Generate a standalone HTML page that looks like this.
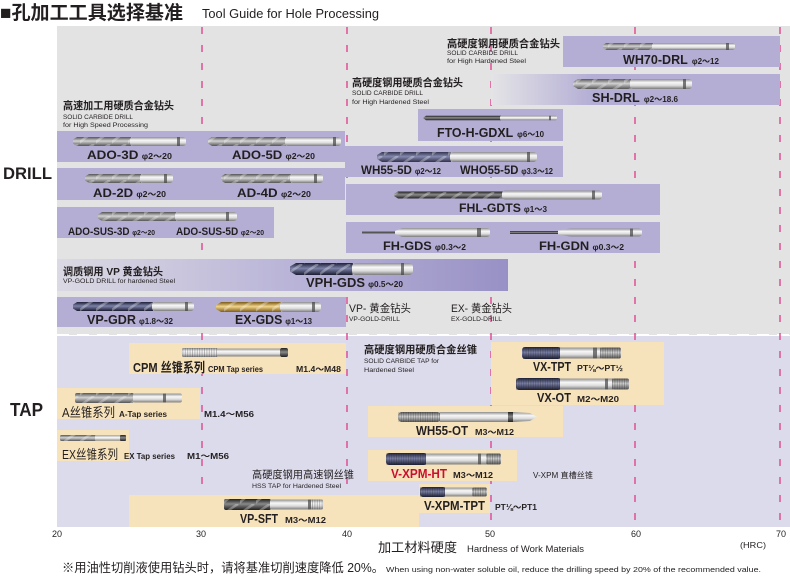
<!DOCTYPE html>
<html><head><meta charset="utf-8">
<style>
html,body{margin:0;padding:0;background:#fff;}
svg{display:block;}
text{font-family:"Liberation Sans","Noto Sans CJK SC",sans-serif;fill:#231f20;}
.b{font-weight:bold;}
</style></head>
<body>
<svg width="790" height="576" viewBox="0 0 790 576" xmlns="http://www.w3.org/2000/svg">
<defs>
<linearGradient id="sh" x1="0" y1="0" x2="0" y2="1"><stop offset="0" stop-color="#8d8d8d"/><stop offset=".35" stop-color="#f8f8f8"/><stop offset=".65" stop-color="#dcdcdc"/><stop offset="1" stop-color="#7b7b7b"/></linearGradient>
<linearGradient id="fl" x1="0" y1="0" x2="0" y2="1"><stop offset="0" stop-color="#555"/><stop offset=".45" stop-color="#d2d2d2"/><stop offset="1" stop-color="#555"/></linearGradient>
<linearGradient id="dk" x1="0" y1="0" x2="0" y2="1"><stop offset="0" stop-color="#1f1f1f"/><stop offset=".45" stop-color="#8a8a8a"/><stop offset="1" stop-color="#202020"/></linearGradient>
<linearGradient id="nv" x1="0" y1="0" x2="0" y2="1"><stop offset="0" stop-color="#1d2037"/><stop offset=".45" stop-color="#7c82a8"/><stop offset="1" stop-color="#1a1c31"/></linearGradient>
<linearGradient id="gd" x1="0" y1="0" x2="0" y2="1"><stop offset="0" stop-color="#7a5a18"/><stop offset=".45" stop-color="#f2d58a"/><stop offset="1" stop-color="#7d5c1a"/></linearGradient>
<linearGradient id="vph" x1="0" y1="0" x2="1" y2="0"><stop offset="0" stop-color="#dbd9e3"/><stop offset=".55" stop-color="#b7b2d7"/><stop offset="1" stop-color="#9891c5"/></linearGradient>
<linearGradient id="shd" x1="0" y1="0" x2="1" y2="0"><stop offset="0" stop-color="#e4e4e6"/><stop offset=".35" stop-color="#b4aed5"/><stop offset="1" stop-color="#b4aed5"/></linearGradient>
<pattern id="sw" patternUnits="userSpaceOnUse" width="16" height="12"><path d="M-2,12 C4,6 8,4 14,0" fill="none" stroke="#fff" stroke-opacity=".3" stroke-width="2.5"/></pattern>
<pattern id="th" patternUnits="userSpaceOnUse" width="2.4" height="12"><line x1="0.5" y1="0" x2="0.5" y2="12" stroke="#222" stroke-opacity=".3" stroke-width="0.9"/></pattern>
</defs>

<!-- Header -->
<text x="0" y="19" font-size="19" class="b" textLength="183" lengthAdjust="spacingAndGlyphs">■孔加工工具选择基准</text>
<text x="202" y="18" font-size="13" textLength="177" lengthAdjust="spacingAndGlyphs">Tool Guide for Hole Processing</text>

<!-- Backgrounds -->
<rect x="57" y="26" width="733" height="309" fill="#e3e3e3"/>
<rect x="57" y="336" width="733" height="191" fill="#dcdbeb"/>
<line x1="57" y1="335" x2="790" y2="335" stroke="#fff" stroke-width="2" stroke-dasharray="12 8"/>

<!-- pink dashed lines -->
<g stroke="#e2579a" stroke-width="1.6" stroke-dasharray="7 11">
<line x1="202" y1="27" x2="202" y2="528"/>
<line x1="347" y1="27" x2="347" y2="528"/>
<line x1="491" y1="27" x2="491" y2="528"/>
<line x1="635" y1="27" x2="635" y2="528"/>
<line x1="780" y1="27" x2="780" y2="528"/>
</g>

<!-- DRILL lavender boxes -->
<g fill="#b4aed5">
<rect x="563" y="36" width="217" height="31"/>
<rect x="418" y="109" width="145" height="32"/>
<rect x="57" y="131" width="288" height="31"/>
<rect x="345" y="146" width="218" height="31"/>
<rect x="57" y="168" width="288" height="32"/>
<rect x="346" y="184" width="314" height="31"/>
<rect x="57" y="207" width="217" height="31"/>
<rect x="346" y="222" width="314" height="31"/>
<rect x="57" y="297" width="289" height="30"/>
</g>
<rect x="491" y="74" width="289" height="31" fill="url(#shd)"/>
<rect x="57" y="259" width="451" height="32" fill="url(#vph)"/>

<!-- TAP beige boxes -->
<g fill="#f7e3bb">
<rect x="129" y="343" width="217" height="31"/>
<rect x="491" y="342" width="173" height="63"/>
<rect x="57" y="388" width="143" height="31"/>
<rect x="368" y="406" width="195" height="31"/>
<rect x="57" y="430" width="72" height="31"/>
<rect x="368" y="450" width="149" height="31"/>
<rect x="419" y="484" width="71" height="29"/>
<rect x="129" y="495" width="290" height="32"/>
</g>

<!-- Side labels -->
<text x="3" y="179" font-size="17" class="b" textLength="49" lengthAdjust="spacingAndGlyphs">DRILL</text>
<text x="10" y="416" font-size="18" class="b" textLength="33" lengthAdjust="spacingAndGlyphs">TAP</text>

<!-- ===== DRILL icons ===== -->
<path d="M603,45 L606,43 H653 V50 H606 L603,48Z" fill="url(#fl)"/><path d="M603,45 L606,43 H653 V50 H606 L603,48Z" fill="url(#sw)"/>
<rect x="652" y="43" width="83" height="7" rx="2.5" fill="url(#sh)"/><rect x="726" y="43" width="3" height="7" fill="#444" opacity=".7"/>
<path d="M573,82 L578,79 H631 V89 H578 L573,86Z" fill="url(#fl)"/><path d="M573,82 L578,79 H631 V89 H578 L573,86Z" fill="url(#sw)"/>
<rect x="630" y="79" width="62" height="10" rx="3" fill="url(#sh)"/><rect x="683" y="79" width="3" height="10" fill="#444" opacity=".7"/>
<path d="M423,118 L426,115.8 H501 V120.2 H426Z" fill="url(#dk)"/>
<rect x="500" y="115.8" width="57" height="4.4" rx="1.5" fill="url(#sh)"/><rect x="549" y="115.8" width="2" height="4.4" fill="#444" opacity=".7"/>
<path d="M377,155 L382,152 H451 V162 H382 L377,159Z" fill="url(#nv)" opacity=".85"/><path d="M377,155 L382,152 H451 V162 H382 L377,159Z" fill="url(#sw)"/>
<rect x="450" y="152" width="87" height="10" rx="3.5" fill="url(#sh)"/><rect x="527" y="152" width="3" height="10" fill="#444" opacity=".7"/>
<path d="M394,194 L398,191.5 H503 V198.5 H398 L394,196Z" fill="url(#dk)"/><path d="M394,194 L398,191.5 H503 V198.5 H398 L394,196Z" fill="url(#sw)"/>
<rect x="502" y="190.5" width="100" height="9" rx="3" fill="url(#sh)"/><rect x="592" y="190.5" width="3" height="9" fill="#444" opacity=".7"/>
<rect x="362" y="231.5" width="35" height="2" fill="#555"/>
<path d="M395,231 L402,228 V237 L395,234Z" fill="url(#sh)"/>
<rect x="400" y="228" width="90" height="9" rx="3" fill="url(#sh)"/><rect x="477" y="228" width="4" height="9" fill="#444" opacity=".7"/>
<rect x="510" y="231" width="52" height="3" fill="url(#dk)"/>
<path d="M558,230.5 L570,228.5 V236.5 L558,234.5Z" fill="url(#sh)"/>
<rect x="568" y="228.5" width="74" height="8" rx="3" fill="url(#sh)"/><rect x="630" y="228.5" width="3" height="8" fill="#444" opacity=".7"/>
<path d="M290,266.5 L296,263 H353 V275 H296 L290,271.5Z" fill="url(#nv)"/><path d="M290,266.5 L296,263 H353 V275 H296 L290,271.5Z" fill="url(#sw)"/>
<rect x="352" y="263" width="61" height="12" rx="4" fill="url(#sh)"/><rect x="401" y="263" width="3" height="12" fill="#444" opacity=".7"/>
<path d="M73,304.5 L77,302 H153 V311 H77 L73,308.5Z" fill="url(#nv)"/><path d="M73,304.5 L77,302 H153 V311 H77 L73,308.5Z" fill="url(#sw)"/>
<rect x="152" y="302" width="42" height="9" rx="3" fill="url(#sh)"/><rect x="185" y="302" width="3" height="9" fill="#444" opacity=".7"/>
<path d="M216,305 L221,302 H281 V312 H221 L216,309Z" fill="url(#gd)"/><path d="M216,305 L221,302 H281 V312 H221 L216,309Z" fill="url(#sw)"/>
<rect x="280" y="302" width="41" height="10" rx="3.5" fill="url(#sh)"/><rect x="312" y="302" width="3" height="10" fill="#444" opacity=".7"/>
<path d="M73,139.5 L77,137 H131 V146 H77 L73,143.5Z" fill="url(#fl)"/><path d="M73,139.5 L77,137 H131 V146 H77 L73,143.5Z" fill="url(#sw)"/>
<rect x="130" y="137" width="56" height="9" rx="3" fill="url(#sh)"/><rect x="177" y="137" width="3" height="9" fill="#444" opacity=".7"/>
<path d="M208,139.5 L212,137 H286 V146 H212 L208,143.5Z" fill="url(#fl)"/><path d="M208,139.5 L212,137 H286 V146 H212 L208,143.5Z" fill="url(#sw)"/>
<rect x="285" y="137" width="56" height="9" rx="3" fill="url(#sh)"/><rect x="333" y="137" width="3" height="9" fill="#444" opacity=".7"/>
<path d="M85,176.5 L89,174 H141 V183 H89 L85,180.5Z" fill="url(#fl)"/><path d="M85,176.5 L89,174 H141 V183 H89 L85,180.5Z" fill="url(#sw)"/>
<rect x="140" y="174" width="33" height="9" rx="3" fill="url(#sh)"/><rect x="164" y="174" width="3" height="9" fill="#444" opacity=".7"/>
<path d="M221,176.5 L225,174 H291 V183 H225 L221,180.5Z" fill="url(#fl)"/><path d="M221,176.5 L225,174 H291 V183 H225 L221,180.5Z" fill="url(#sw)"/>
<rect x="290" y="174" width="33" height="9" rx="3" fill="url(#sh)"/><rect x="314" y="174" width="3" height="9" fill="#444" opacity=".7"/>
<path d="M98,214.5 L102,212 H176 V221 H102 L98,218.5Z" fill="url(#fl)"/><path d="M98,214.5 L102,212 H176 V221 H102 L98,218.5Z" fill="url(#sw)"/>
<rect x="175" y="212" width="62" height="9" rx="3" fill="url(#sh)"/><rect x="226" y="212" width="3" height="9" fill="#444" opacity=".7"/>

<!-- ===== TAP icons ===== -->
<rect x="182" y="348" width="36" height="9" rx="2" fill="url(#sh)"/><rect x="182" y="348" width="36" height="9" fill="url(#th)"/>
<rect x="217" y="348.5" width="63" height="8" fill="url(#sh)"/>
<rect x="280" y="348" width="8" height="9" rx="2" fill="url(#dk)"/>
<rect x="75" y="393" width="59" height="10" rx="2" fill="url(#fl)"/><rect x="75" y="393" width="59" height="10" fill="url(#sw)"/>
<rect x="133" y="393.5" width="49" height="9" rx="2" fill="url(#sh)"/><rect x="163" y="393.5" width="3" height="9" fill="#444" opacity=".7"/>
<rect x="60" y="435" width="36" height="6" rx="1.5" fill="url(#fl)"/><rect x="60" y="435" width="36" height="6" fill="url(#sw)"/>
<rect x="95" y="435.3" width="26" height="5.4" fill="url(#sh)"/>
<rect x="120" y="435" width="6" height="6" rx="1" fill="url(#dk)"/>
<rect x="224" y="499" width="47" height="11" rx="2" fill="url(#dk)"/><rect x="224" y="499" width="47" height="11" fill="url(#sw)"/>
<rect x="270" y="499.5" width="53" height="10" rx="2" fill="url(#sh)"/><rect x="308" y="499.5" width="3" height="10" fill="#444" opacity=".7"/>
<rect x="311" y="499.5" width="12" height="10" fill="url(#th)"/>
<rect x="522" y="347" width="39" height="12" rx="3" fill="url(#nv)"/><rect x="522" y="347" width="39" height="12" fill="url(#th)"/>
<rect x="560" y="347.5" width="41" height="11" fill="url(#sh)"/><rect x="593" y="347.5" width="4" height="11" fill="#444" opacity=".7"/>
<rect x="600" y="347.5" width="21" height="11" rx="2" fill="url(#fl)"/><rect x="600" y="347.5" width="21" height="11" fill="url(#th)"/>
<rect x="516" y="378" width="45" height="12" rx="3" fill="url(#nv)"/><rect x="516" y="378" width="45" height="12" fill="url(#th)"/>
<rect x="560" y="378.5" width="53" height="11" fill="url(#sh)"/><rect x="605" y="378.5" width="3" height="11" fill="#444" opacity=".7"/>
<rect x="612" y="378.5" width="17" height="11" rx="2" fill="url(#fl)"/><rect x="612" y="378.5" width="17" height="11" fill="url(#th)"/>
<rect x="398" y="412" width="43" height="10" rx="4" fill="url(#fl)"/><rect x="398" y="412" width="43" height="10" fill="url(#th)"/>
<rect x="440" y="412" width="69" height="10" fill="url(#sh)"/>
<rect x="508" y="412" width="5" height="10" fill="url(#dk)"/>
<path d="M513,412 L530,413 L537,417 L530,421 L513,422Z" fill="url(#sh)"/>
<rect x="386" y="453" width="41" height="12" rx="3" fill="url(#nv)"/><rect x="386" y="453" width="41" height="12" fill="url(#th)"/>
<rect x="426" y="453.5" width="61" height="11" fill="url(#sh)"/><rect x="478" y="453.5" width="3" height="11" fill="#444" opacity=".7"/>
<rect x="486" y="453.5" width="15" height="11" rx="2" fill="url(#fl)"/><rect x="486" y="453.5" width="15" height="11" fill="url(#th)"/>
<rect x="420" y="487" width="26" height="10" rx="3" fill="url(#nv)"/><rect x="420" y="487" width="26" height="10" fill="url(#th)"/>
<rect x="445" y="487.5" width="28" height="9" fill="url(#sh)"/>
<rect x="472" y="487.5" width="15" height="9" rx="2" fill="url(#fl)"/><rect x="472" y="487.5" width="15" height="9" fill="url(#th)"/>

<!-- ===== DRILL text ===== -->
<text x="447" y="47" font-size="10.5" class="b" textLength="113" lengthAdjust="spacingAndGlyphs">高硬度钢用硬质合金钻头</text>
<text x="447" y="55" font-size="6.5" textLength="71" lengthAdjust="spacingAndGlyphs">SOLID CARBIDE DRILL</text>
<text x="447" y="63" font-size="6.5" textLength="79" lengthAdjust="spacingAndGlyphs">for High Hardened Steel</text>

<text x="352" y="86" font-size="10.5" class="b" textLength="111" lengthAdjust="spacingAndGlyphs">高硬度钢用硬质合金钻头</text>
<text x="352" y="95" font-size="6.5" textLength="71" lengthAdjust="spacingAndGlyphs">SOLID CARBIDE DRILL</text>
<text x="352" y="104" font-size="6.5" textLength="77" lengthAdjust="spacingAndGlyphs">for High Hardened Steel</text>

<text x="63" y="109" font-size="10.5" class="b" textLength="111" lengthAdjust="spacingAndGlyphs">高速加工用硬质合金钻头</text>
<text x="63" y="119" font-size="6.5" textLength="70" lengthAdjust="spacingAndGlyphs">SOLID CARBIDE DRILL</text>
<text x="63" y="127" font-size="6.5" textLength="85" lengthAdjust="spacingAndGlyphs">for High Speed Processing</text>

<text x="63" y="275" font-size="10.5" class="b" textLength="100" lengthAdjust="spacingAndGlyphs">调质钢用 VP 黄金钻头</text>
<text x="63" y="283" font-size="6.5" textLength="112" lengthAdjust="spacingAndGlyphs">VP-GOLD DRILL for hardened Steel</text>

<text x="349" y="312" font-size="11" textLength="62" lengthAdjust="spacingAndGlyphs">VP- 黄金钻头</text>
<text x="349" y="321" font-size="6.5" textLength="51" lengthAdjust="spacingAndGlyphs">VP-GOLD-DRILL</text>
<text x="451" y="312" font-size="11" textLength="61" lengthAdjust="spacingAndGlyphs">EX- 黄金钻头</text>
<text x="451" y="321" font-size="6.5" textLength="51" lengthAdjust="spacingAndGlyphs">EX-GOLD-DRILL</text>

<!-- Drill product labels -->
<text x="623" y="64" font-size="12.5" class="b" textLength="96" lengthAdjust="spacingAndGlyphs">WH70-DRL<tspan font-size="8" dx="4">φ2～12</tspan></text>
<text x="592" y="102" font-size="12.5" class="b" textLength="86" lengthAdjust="spacingAndGlyphs">SH-DRL<tspan font-size="8" dx="4">φ2～18.6</tspan></text>
<text x="437" y="137" font-size="12.5" class="b" textLength="107" lengthAdjust="spacingAndGlyphs">FTO-H-GDXL<tspan font-size="8" dx="4">φ6～10</tspan></text>
<text x="361" y="174" font-size="12" class="b" textLength="80" lengthAdjust="spacingAndGlyphs">WH55-5D<tspan font-size="8" dx="3">φ2～12</tspan></text>
<text x="460" y="174" font-size="12" class="b" textLength="93" lengthAdjust="spacingAndGlyphs">WHO55-5D<tspan font-size="8" dx="3">φ3.3～12</tspan></text>
<text x="459" y="212" font-size="12" class="b" textLength="88" lengthAdjust="spacingAndGlyphs">FHL-GDTS<tspan font-size="8" dx="3">φ1～3</tspan></text>
<text x="383" y="250" font-size="12" class="b" textLength="83" lengthAdjust="spacingAndGlyphs">FH-GDS<tspan font-size="8" dx="3">φ0.3～2</tspan></text>
<text x="539" y="250" font-size="12" class="b" textLength="85" lengthAdjust="spacingAndGlyphs">FH-GDN<tspan font-size="8" dx="3">φ0.3～2</tspan></text>
<text x="306" y="287" font-size="12.5" class="b" textLength="97" lengthAdjust="spacingAndGlyphs">VPH-GDS<tspan font-size="8" dx="3">φ0.5～20</tspan></text>
<text x="87" y="324" font-size="12.5" class="b" textLength="86" lengthAdjust="spacingAndGlyphs">VP-GDR<tspan font-size="8" dx="3">φ1.8～32</tspan></text>
<text x="235" y="324" font-size="12.5" class="b" textLength="77" lengthAdjust="spacingAndGlyphs">EX-GDS<tspan font-size="8" dx="3">φ1～13</tspan></text>
<text x="87" y="159" font-size="12" class="b" textLength="85" lengthAdjust="spacingAndGlyphs">ADO-3D<tspan font-size="8" dx="3">φ2～20</tspan></text>
<text x="232" y="159" font-size="12" class="b" textLength="83" lengthAdjust="spacingAndGlyphs">ADO-5D<tspan font-size="8" dx="3">φ2～20</tspan></text>
<text x="93" y="197" font-size="12" class="b" textLength="73" lengthAdjust="spacingAndGlyphs">AD-2D<tspan font-size="8" dx="3">φ2～20</tspan></text>
<text x="237" y="197" font-size="12" class="b" textLength="74" lengthAdjust="spacingAndGlyphs">AD-4D<tspan font-size="8" dx="3">φ2～20</tspan></text>
<text x="68" y="235" font-size="11" class="b" textLength="87" lengthAdjust="spacingAndGlyphs">ADO-SUS-3D<tspan font-size="7.5" dx="3">φ2～20</tspan></text>
<text x="176" y="235" font-size="11" class="b" textLength="88" lengthAdjust="spacingAndGlyphs">ADO-SUS-5D<tspan font-size="7.5" dx="3">φ2～20</tspan></text>

<!-- ===== TAP text ===== -->
<text x="133" y="372" font-size="13" class="b" textLength="72" lengthAdjust="spacingAndGlyphs">CPM 丝锥系列</text>
<text x="208" y="372" font-size="8" class="b" textLength="55" lengthAdjust="spacingAndGlyphs">CPM Tap series</text>
<text x="296" y="372" font-size="8" class="b" textLength="45" lengthAdjust="spacingAndGlyphs">M1.4～M48</text>

<text x="62" y="417" font-size="13" textLength="53" lengthAdjust="spacingAndGlyphs">A丝锥系列</text>
<text x="119" y="417" font-size="8" class="b" textLength="48" lengthAdjust="spacingAndGlyphs">A-Tap series</text>
<text x="204" y="417" font-size="8.5" class="b" textLength="50" lengthAdjust="spacingAndGlyphs">M1.4～M56</text>

<text x="62" y="459" font-size="13" textLength="56" lengthAdjust="spacingAndGlyphs">EX丝锥系列</text>
<text x="124" y="459" font-size="8" class="b" textLength="51" lengthAdjust="spacingAndGlyphs">EX Tap series</text>
<text x="187" y="459" font-size="8.5" class="b" textLength="42" lengthAdjust="spacingAndGlyphs">M1～M56</text>

<text x="252" y="478" font-size="10.5" textLength="102" lengthAdjust="spacingAndGlyphs">高硬度钢用高速钢丝锥</text>
<text x="252" y="488" font-size="6.5" textLength="89" lengthAdjust="spacingAndGlyphs">HSS TAP for Hardened Steel</text>

<text x="240" y="523" font-size="12.5" class="b" textLength="38" lengthAdjust="spacingAndGlyphs">VP-SFT</text>
<text x="285" y="523" font-size="8" class="b" textLength="41" lengthAdjust="spacingAndGlyphs">M3～M12</text>

<text x="364" y="353" font-size="10.5" class="b" textLength="113" lengthAdjust="spacingAndGlyphs">高硬度钢用硬质合金丝锥</text>
<text x="364" y="363" font-size="6.5" textLength="75" lengthAdjust="spacingAndGlyphs">SOLID CARBIDE TAP for</text>
<text x="364" y="372" font-size="6.5" textLength="50" lengthAdjust="spacingAndGlyphs">Hardened Steel</text>

<text x="533" y="371" font-size="12.5" class="b" textLength="38" lengthAdjust="spacingAndGlyphs">VX-TPT</text>
<text x="577" y="371" font-size="8" class="b" textLength="46" lengthAdjust="spacingAndGlyphs">PT⅛～PT½</text>
<text x="537" y="402" font-size="12.5" class="b" textLength="34" lengthAdjust="spacingAndGlyphs">VX-OT</text>
<text x="577" y="402" font-size="8" class="b" textLength="42" lengthAdjust="spacingAndGlyphs">M2～M20</text>
<text x="416" y="435" font-size="12.5" class="b" textLength="52" lengthAdjust="spacingAndGlyphs">WH55-OT</text>
<text x="475" y="435" font-size="8" class="b" textLength="39" lengthAdjust="spacingAndGlyphs">M3～M12</text>
<text x="391" y="478" font-size="12.5" class="b" style="fill:#c8102e" textLength="56" lengthAdjust="spacingAndGlyphs">V-XPM-HT</text>
<text x="453" y="478" font-size="8" class="b" textLength="40" lengthAdjust="spacingAndGlyphs">M3～M12</text>
<text x="533" y="478" font-size="8" textLength="60" lengthAdjust="spacingAndGlyphs">V-XPM 直槽丝锥</text>
<text x="424" y="510" font-size="12.5" class="b" textLength="61" lengthAdjust="spacingAndGlyphs">V-XPM-TPT</text>
<text x="495" y="510" font-size="8" class="b" textLength="42" lengthAdjust="spacingAndGlyphs">PT⅛～PT1</text>

<!-- Axis -->
<g font-size="9" text-anchor="middle">
<text x="57" y="537">20</text>
<text x="201" y="537">30</text>
<text x="347" y="537">40</text>
<text x="490" y="537">50</text>
<text x="636" y="537">60</text>
<text x="781" y="537">70</text>
</g>
<text x="378" y="552" font-size="13" textLength="79" lengthAdjust="spacingAndGlyphs">加工材料硬度</text>
<text x="467" y="552" font-size="9.5" textLength="117" lengthAdjust="spacingAndGlyphs">Hardness of Work Materials</text>
<text x="740" y="548" font-size="8.5" textLength="26" lengthAdjust="spacingAndGlyphs">(HRC)</text>

<!-- Footer -->
<text x="62" y="572" font-size="12.5" textLength="322" lengthAdjust="spacingAndGlyphs">※用油性切削液使用钻头时，请将基准切削速度降低 20%。</text>
<text x="386" y="572" font-size="7.5" textLength="375" lengthAdjust="spacingAndGlyphs">When using non-water soluble oil, reduce the drilling speed by 20% of the recommended value.</text>
</svg>
</body></html>
